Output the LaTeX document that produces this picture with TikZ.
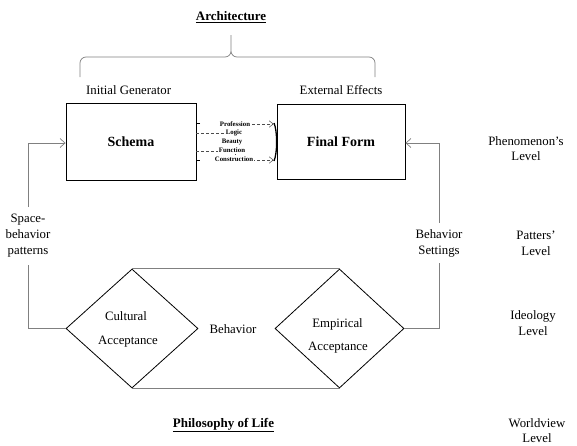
\documentclass[tikz,border=0pt]{standalone}
\usepackage{fontspec}
\setmainfont{Liberation Serif}
\usetikzlibrary{arrows.meta,shapes.geometric}
\begin{document}
\begin{tikzpicture}[x=1pt,y=-1pt,
  txt/.style={font=\fontsize{12.8}{16}\selectfont, inner sep=0pt, align=center},
  tinylbl/.style={font=\bfseries\fontsize{6.8}{7}\selectfont, inner sep=0.8pt, fill=white},
  box/.style={draw=black, line width=0.9pt, rectangle, inner sep=0pt, font=\bfseries\fontsize{14}{16}\selectfont},
  dia/.style={draw=black, line width=0.8pt, diamond, inner sep=0pt, minimum height=119pt},
  conn/.style={draw=black!50, line width=0.7pt},
  openarrow/.style={-{Straight Barb[length=5pt,width=9pt]}},
  smallarrow/.style={-{Straight Barb[length=4pt,width=6.5pt]}},
  dashline/.style={densely dashed, draw=black!70, line width=0.5pt}
]
\useasboundingbox (0,0) rectangle (577,445);

% title and brace
\node[txt, font=\bfseries\fontsize{13}{16}\selectfont] (arch) at (231,17) {\underline{Architecture}};
\draw[conn] (80,77) -- (80,63) to[out=90,in=180] (86,57) -- (225,57) to[out=0,in=-90] (231,51) -- (231,35)
            (231,51) to[out=-90,in=180] (237,57) -- (369,57) to[out=0,in=90] (375,63) -- (375,77);

\node[txt] (gen) at (128.6,90) {Initial Generator};
\node[txt] (ext) at (341,90) {External Effects};

% boxes
\node[box, minimum width=130pt, minimum height=77pt] (schema) at (131,141.5) {Schema};
\node[box, minimum width=128pt, minimum height=75pt] (final) at (341,141.5) {Final Form};

% dashed links
\draw[dashline, smallarrow] ([yshift=8.5pt]schema.east) -- ++(39,0) |- ([yshift=17.5pt,xshift=-3pt]final.west);
\draw[dashline, smallarrow] ([yshift=-9.5pt]schema.east) -- ++(39,0) |- ([yshift=-18.5pt,xshift=-3pt]final.west);
\draw[black, line width=0.8pt] (200,123) -- (196.5,123) -- (196.5,128)
                               (196.5,155) -- (196.5,160) -- (200,160);
\draw[black, line width=1.3pt] (274,123) .. controls (277.5,131) and (277.5,153) .. (274,161);

\node[tinylbl] (prof) at (235,124.3) {Profession};
\node[tinylbl] (logic) at (234,133) {Logic};
\node[tinylbl] (beauty) at (232,141.7) {Beauty};
\node[tinylbl] (func) at (232,150.5) {Function};
\node[tinylbl] (cons) at (234,159.3) {Construction};

% diamonds
\node[dia, minimum width=132pt] (ld) at (132,328.5) {};
\node[dia, minimum width=129pt] (rd) at (339.5,328.5) {};
\draw[conn] (ld.north) -- (rd.north);
\draw[conn] (ld.south) -- (rd.south);
\node[txt] (cult) at (126,316) {Cultural};
\node[txt] (acc1) at (128,341.5) {Acceptance};
\node[txt] (emp) at (337.5,324) {Empirical};
\node[txt] (acc2) at (338,348) {Acceptance};
\node[txt] (beh) at (233,329) {Behavior};

% side connectors
\node[txt, inner sep=7pt] (sbp) at (28,236) {Space-\\behavior\\patterns};
\draw[conn] (ld.west) -| (sbp.south);
\draw[conn, openarrow] (sbp.north) |- ([yshift=-1.5pt]schema.west);
\node[txt, inner sep=6pt] (bs) at (439,243) {Behavior\\Settings};
\draw[conn] (rd.east) -| (bs.south);
\draw[conn, openarrow] (bs.north) |- ([yshift=-1.5pt]final.east);

% bottom
\node[txt, font=\bfseries\fontsize{13}{16}\selectfont] (phil) at (223.5,425) {\underline{Philosophy of Life}};

% levels
\node[txt, font=\fontsize{12.8}{15}\selectfont] (lv1) at (526,149) {Phenomenon’s\\Level};
\node[txt] (lv2) at (536,243) {Patters’\\Level};
\node[txt] (lv3) at (533,323.5) {Ideology\\Level};
\node[txt, font=\fontsize{12.8}{15}\selectfont] (lv4) at (537,431) {Worldview\\Level};
\end{tikzpicture}
\end{document}
